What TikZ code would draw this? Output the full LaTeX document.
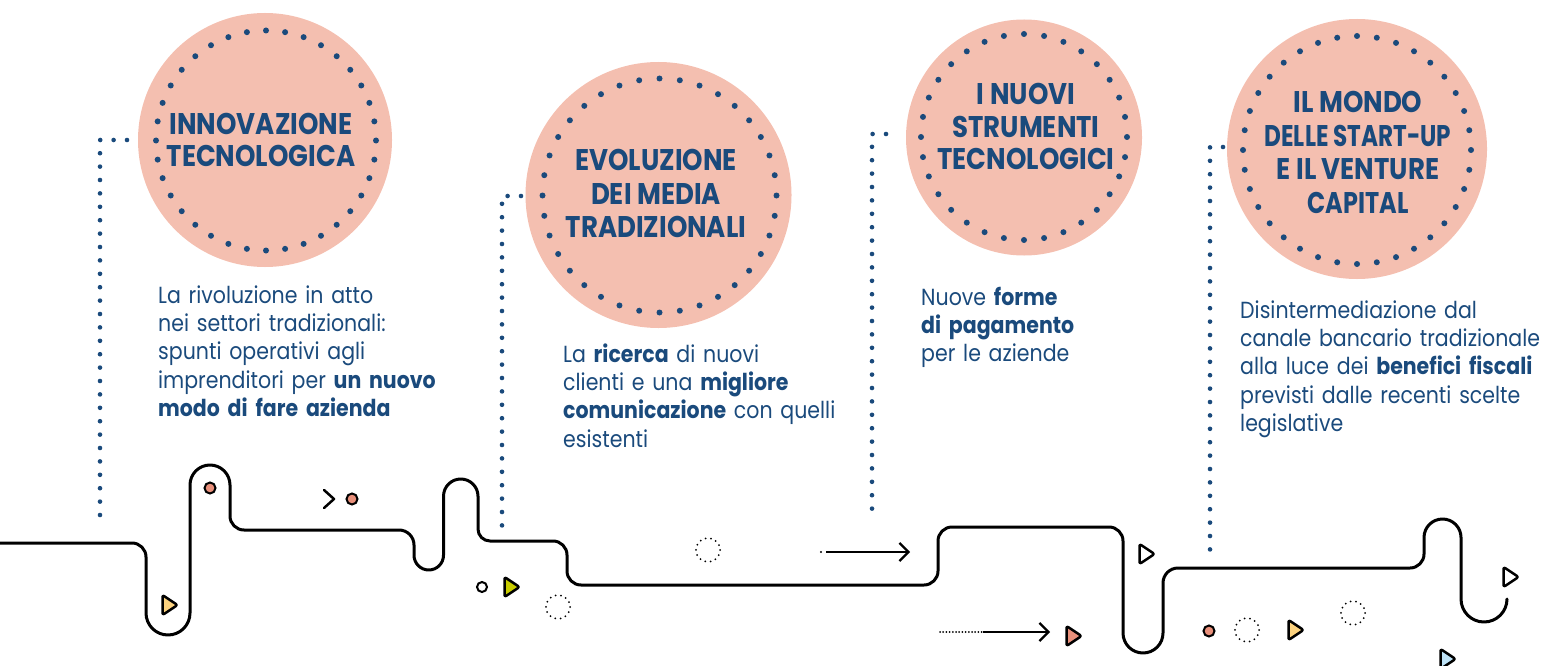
\documentclass[tikz,border=0pt]{standalone}
\usepackage{fontspec}
\usepackage{graphicx}
\setmainfont{Poppins}[FakeStretch=0.88]
\newfontfamily\titlefont{Poppins}[FakeStretch=0.87]
\usetikzlibrary{arrows.meta}
\definecolor{peach}{HTML}{F4BFB0}
\definecolor{navy}{HTML}{1A4A7C}
\definecolor{salmon}{HTML}{E9907B}
\definecolor{sun}{HTML}{FDD37F}
\definecolor{lime}{HTML}{C8CC00}
\definecolor{sky}{HTML}{BEE3F7}
\newcommand{\mytri}[3]{\draw[trimark, fill=#3] (#1-6.5,#2-10) -- (#1+8.5,#2) -- (#1-6.5,#2+10) -- cycle;}
\newcommand{\myring}[4]{\foreach \k in {1,...,#4} {\fill[navy] ({#1+#3*cos(360*\k/#4)},{#2+#3*sin(360*\k/#4)}) circle (3);}}
\begin{document}
\begin{tikzpicture}[x=1bp,y=-1bp,
  bigdisc/.style={circle, fill=peach, inner sep=0pt},
  titletext/.style={text=navy, align=center, inner sep=0pt, font=\titlefont\bfseries\fontsize{30}{33}\selectfont},
  bodytext/.style={text=navy, align=left, text width=360bp, inner sep=0pt, anchor=base west, font=\fontsize{23.4}{28.5}\selectfont},
  bluedots/.style={navy, line width=4.6bp, line cap=round, dash pattern=on 0pt off 13.4bp},
  road/.style={black, line width=3bp, line cap=round, line join=round},
  trimark/.style={black, line width=2.5bp, line join=round, rounded corners=2bp},
  dotring/.style={black, line width=2bp, line cap=round, dash pattern=on 0pt off 5.38bp},
  densedots/.style={black, line width=2bp, line cap=round, dash pattern=on 0pt off 3.2bp},
  arrowline/.style={black, line width=2.2bp, -{Straight Barb[length=9bp,width=18bp,line width=2.2bp]}},
  smalldot/.style={black, line width=2bp}
]
\useasboundingbox (0,0) rectangle (1547,666);

% big discs
\node[bigdisc, minimum size=254bp] (c1) at (265,140) {};
\node[bigdisc, minimum size=266bp] (c2) at (658.5,195) {};
\node[bigdisc, minimum size=236bp] (c3) at (1024,137.5) {};
\node[bigdisc, minimum size=260bp] (c4) at (1357,149) {};

% dotted rings
\myring{266}{140.5}{110}{36}
\myring{659.5}{195.5}{117}{36}
\myring{1024}{137}{103}{32}
\myring{1357}{150}{114}{36}

% titles
\node[titletext, font=\titlefont\bfseries\fontsize{30}{32}\selectfont] (t1) at (261,140) {INNOVAZIONE\\TECNOLOGICA};
\node[titletext, font=\titlefont\bfseries\fontsize{30}{34}\selectfont] (t2) at (656,193.5) {EVOLUZIONE\\DEI MEDIA\\TRADIZIONALI};
\node[titletext] (t3) at (1026,126.5) {I NUOVI\\STRUMENTI\\TECNOLOGICI};
\node[titletext, font=\titlefont\bfseries\fontsize{30}{33.7}\selectfont] (t4) at (1358,152.5) {IL MONDO\\\scalebox{0.89}[1]{DELLE START-UP}\\E IL VENTURE\\\scalebox{0.92}[1]{CAPITAL}};

% body texts
\node[bodytext] (b1) at (158,303) {La rivoluzione in atto\\nei settori tradizionali:\\spunti operativi agli\\imprenditori per \textbf{un nuovo}\\\textbf{modo di fare azienda}};
\node[bodytext] (b2) at (563,362) {La \textbf{ricerca} di nuovi\\clienti e una \textbf{migliore}\\\textbf{comunicazione} con quelli\\esistenti};
\node[bodytext] (b3) at (921,305) {Nuove \textbf{forme}\\\textbf{di pagamento}\\per le aziende};
\node[bodytext] (b4) at (1240,318) {Disintermediazione dal\\canale bancario tradizionale\\alla luce dei \textbf{benefici fiscali}\\previsti dalle recenti scelte\\legislative};

% blue dotted connectors
\coordinate (k1s) at (127,140); \coordinate (k1c) at (100,140); \coordinate (k1e) at (100,522);
\coordinate (k2s) at (521,196); \coordinate (k2c) at (502,196); \coordinate (k2e) at (502,528);
\coordinate (k3s) at (886,134); \coordinate (k3c) at (872,134); \coordinate (k3e) at (872,514);
\coordinate (k4s) at (1223,147); \coordinate (k4c) at (1210,147); \coordinate (k4e) at (1210,557);
\draw[bluedots] (k1s) -- (k1c) -- (k1e);
\draw[bluedots] (k2s) -- (k2c) -- (k2e);
\draw[bluedots] (k3s) -- (k3c) -- (k3e);
\draw[bluedots] (k4s) -- (k4c) -- (k4e);

% the road
\draw[road] (0,543) -- (132,543) arc[start angle=-90,end angle=0,radius=14]
  -- (146,613) arc[start angle=180,end angle=0,radius=22]
  -- (190,485) arc[start angle=180,end angle=360,radius=20]
  -- (230,516) arc[start angle=180,end angle=90,radius=14]
  -- (399,530) arc[start angle=-90,end angle=0,radius=15]
  -- (414,555.25) arc[start angle=180,end angle=0,radius=14.75]
  -- (443.5,496.25) arc[start angle=180,end angle=360,radius=17.25]
  -- (478,529) arc[start angle=180,end angle=90,radius=12]
  -- (553,541) arc[start angle=-90,end angle=0,radius=14]
  -- (567,571) arc[start angle=180,end angle=90,radius=14]
  -- (924,585) arc[start angle=90,end angle=0,radius=14]
  -- (938,541) arc[start angle=180,end angle=270,radius=14]
  -- (1109,527) arc[start angle=-90,end angle=0,radius=14]
  -- (1123,633) arc[start angle=180,end angle=0,radius=20]
  -- (1163,583) arc[start angle=180,end angle=270,radius=15]
  -- (1410,568) arc[start angle=90,end angle=0,radius=14]
  -- (1424,537.5) arc[start angle=180,end angle=360,radius=18.5]
  -- (1461,599) arc[start angle=180,end angle=0,radius=23];

% arrows
\coordinate (a1d) at (821,552); \coordinate (a1s) at (826,552); \coordinate (a1e) at (910,552);
\fill[black] (a1d) circle (1.1);
\draw[arrowline] (a1s) -- (a1e);
\coordinate (a2s) at (940,632); \coordinate (a2m) at (983,632); \coordinate (a2e) at (1050,632);
\draw[densedots] (a2s) -- (a2m);
\draw[arrowline] (a2m) -- (a2e);

% decorations
\mytri{169}{605}{sun}
\mytri{511}{587}{lime}
\mytri{1073}{636}{salmon}
\mytri{1146}{554}{white}
\mytri{1295}{630}{sun}
\mytri{1510}{577}{white}
\mytri{1447}{659}{sky}
\draw[smalldot, fill=salmon] (210,488) circle (5.5);
\draw[smalldot, fill=salmon] (352,499) circle (5.5);
\draw[smalldot, fill=salmon] (1209,631) circle (5.5);
\draw[smalldot, fill=white] (482,587) circle (5);
\draw[black, line width=2.5bp, line cap=round, line join=round] (324,490) -- (334,499) -- (324,508);
\draw[dotring] (558,607) circle (12);
\draw[dotring] (708,550) circle (12);
\draw[dotring] (1247,630) circle (12);
\draw[dotring] (1353,613) circle (12);
\end{tikzpicture}
\end{document}
